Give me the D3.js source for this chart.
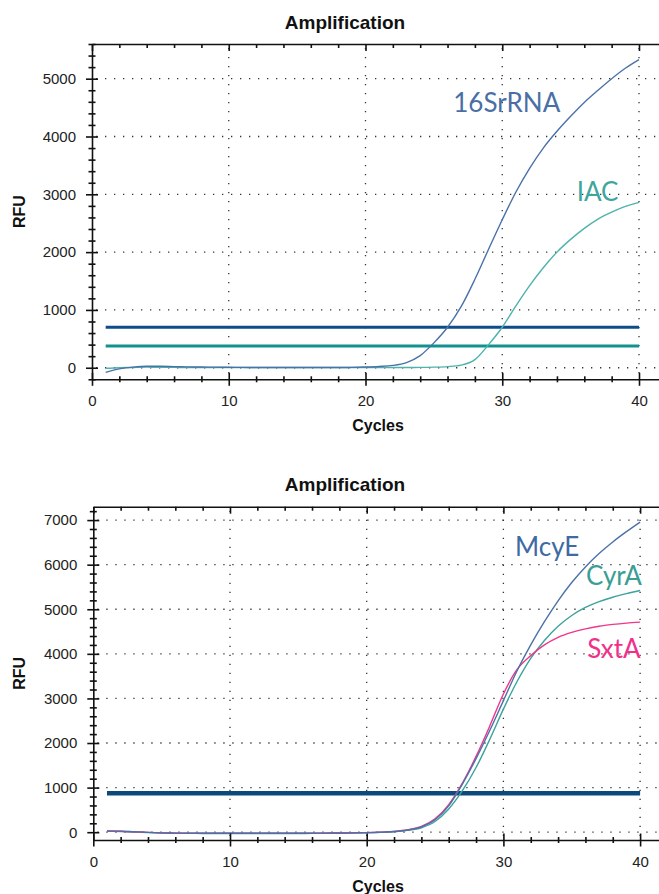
<!DOCTYPE html>
<html>
<head>
<meta charset="utf-8">
<script src="https://cdn.jsdelivr.net/npm/d3@7"></script>
<style>
  body { margin: 0; background: #fff; }
  svg { display: block; }
  .tick text { font-family: "Liberation Sans", Arial, sans-serif; font-size: 15px; fill: #222; }
  .title { font-family: "Liberation Sans", Arial, sans-serif; font-weight: bold; font-size: 19px; fill: #111; }
  .axis-title { font-family: "Liberation Sans", Arial, sans-serif; font-weight: bold; font-size: 16px; fill: #111; }
  .curve-label { font-family: Lato, "Open Sans", sans-serif; font-size: 26px; }
</style>
</head>
<body>
<svg id="chart" width="659" height="894"></svg>
<script>
/*Data*/
var cycles = [1,2,3,4,5,6,7,8,9,10,11,12,13,14,15,16,17,18,19,20,
              21,22,23,24,25,26,27,28,29,30,31,32,33,34,35,36,37,38,39,40];

// top panel
var rfu16SrRNA = [-80,-20,10,25,25,20,15,12,10,8,6,5,5,4,4,3,3,4,6,12,
                  22,40,90,210,430,700,1060,1530,2050,2560,3040,3450,3800,4090,4350,4590,4800,5000,5180,5330];
var rfuIAC = [-10,0,5,10,8,6,5,5,4,4,4,3,3,3,3,3,3,3,3,4,
              4,5,5,6,10,20,45,140,400,700,1070,1420,1730,2000,2220,2410,2570,2690,2790,2860];
var thresholdsTop = [700, 375];

// bottom panel
var rfuMcyE = [30,25,10,-5,-15,-20,-22,-24,-25,-25,-25,-25,-24,-24,-23,-22,-20,-18,-15,-10,
               0,15,50,120,280,590,1080,1650,2280,2950,3620,4200,4720,5190,5600,5950,6250,6510,6740,6955];
var rfuCyrA = [20,15,5,-10,-20,-25,-27,-28,-30,-30,-30,-30,-30,-29,-28,-27,-25,-22,-18,-12,
               -5,10,40,100,240,520,930,1450,2080,2760,3380,3900,4300,4620,4860,5040,5170,5270,5350,5420];
var rfuSxtA = [25,20,8,-5,-15,-20,-22,-24,-25,-25,-25,-25,-24,-24,-23,-22,-20,-18,-15,-10,
               0,18,55,130,300,620,1100,1700,2380,3100,3650,3960,4200,4370,4480,4560,4620,4660,4690,4712];
var thresholdsBottom = [875];

var xTicks = [0, 10, 20, 30, 40];
var yTicksTop = [0, 1000, 2000, 3000, 4000, 5000];
var yTicksBottom = [0, 1000, 2000, 3000, 4000, 5000, 6000, 7000];

var svg = d3.select("#chart");
var W = 659;

/*Draw one amplification panel*/
function drawPanel(p) {
  var g = svg.append("g");

  var x = d3.scaleLinear().domain([0, 42]).range([p.left, p.left + 42 * p.pxPerCycle]);
  var y = d3.scaleLinear().domain(p.yDomain).range([p.bottom, p.top]);

  var minorX = d3.range(0, 43, 2).filter(function(v) { return v % 10 !== 0; });
  var minorY = d3.range(Math.ceil(p.yDomain[0] / 200) * 200, p.yDomain[1] + 1, 200)
                 .filter(function(v) { return v % 1000 !== 0; });

  // dotted grid
  var grid = g.append("g").attr("stroke", "#333").attr("stroke-width", 1.3)
              .attr("stroke-dasharray", "1.3 7.7").attr("fill", "none");
  grid.selectAll("line.h").data(p.yTicks).enter().append("line")
      .attr("x1", p.left + 4).attr("x2", W)
      .attr("y1", function(d) { return y(d); }).attr("y2", function(d) { return y(d); });
  grid.selectAll("line.v").data(xTicks.slice(1)).enter().append("line")
      .attr("y1", p.top + 4).attr("y2", p.bottom)
      .attr("x1", function(d) { return x(d); }).attr("x2", function(d) { return x(d); });

  // threshold lines from cycle 1 to 40
  g.selectAll("line.thr").data(p.thresholds).enter().append("line")
      .attr("x1", x(cycles[0])).attr("x2", x(cycles[cycles.length - 1]))
      .attr("y1", function(d) { return y(d); }).attr("y2", function(d) { return y(d); })
      .attr("stroke", function(d, i) { return p.thresholdColors[i]; })
      .attr("stroke-width", p.thresholdWidth);

  // curves
  var line = d3.line()
      .x(function(d, i) { return x(cycles[i]); })
      .y(function(d) { return y(d); })
      .curve(d3.curveMonotoneX);
  p.series.forEach(function(s) {
    g.append("path").datum(s.values)
      .attr("fill", "none").attr("stroke", s.color).attr("stroke-width", 1.4)
      .attr("d", line);
  });

  // curve names
  p.series.forEach(function(s) {
    g.append("text").attr("class", "curve-label")
      .attr("x", x(s.labelAt[0])).attr("y", y(s.labelAt[1]))
      .attr("fill", s.textColor).text(s.name);
  });

  // top border with hanging ticks
  g.append("g").attr("transform", "translate(0," + p.top + ")")
    .call(d3.axisBottom(x).tickValues(xTicks).tickSize(7).tickSizeOuter(0).tickFormat(""));
  g.append("g").attr("transform", "translate(0," + p.top + ")")
    .call(d3.axisBottom(x).tickValues(minorX).tickSize(4).tickSizeOuter(0).tickFormat(""))
    .select(".domain").remove();

  // x axis, ticks crossing the line
  var xa = g.append("g").attr("transform", "translate(0," + p.bottom + ")");
  xa.append("g").call(d3.axisBottom(x).tickValues(xTicks).tickSize(6.5).tickSizeOuter(0)
    .tickPadding(10).tickFormat(d3.format("d")));
  xa.append("g").call(d3.axisTop(x).tickValues(xTicks).tickSize(6.5).tickSizeOuter(0).tickFormat(""))
    .select(".domain").remove();
  xa.append("g").call(d3.axisBottom(x).tickValues(minorX).tickSize(3).tickSizeOuter(0).tickFormat(""))
    .select(".domain").remove();
  xa.append("g").call(d3.axisTop(x).tickValues(minorX).tickSize(3).tickSizeOuter(0).tickFormat(""))
    .select(".domain").remove();

  // y axis, ticks crossing the line
  var ya = g.append("g").attr("transform", "translate(" + p.left + ",0)");
  ya.append("g").call(d3.axisLeft(y).tickValues(p.yTicks).tickSize(6).tickSizeOuter(0)
    .tickPadding(10).tickFormat(d3.format("d")));
  ya.append("g").call(d3.axisRight(y).tickValues(p.yTicks).tickSize(6).tickSizeOuter(0).tickFormat(""))
    .select(".domain").remove();
  ya.append("g").call(d3.axisLeft(y).tickValues(minorY).tickSize(3.5).tickSizeOuter(0).tickFormat(""))
    .select(".domain").remove();
  ya.append("g").call(d3.axisRight(y).tickValues(minorY).tickSize(3.5).tickSizeOuter(0).tickFormat(""))
    .select(".domain").remove();

  g.selectAll(".domain, .tick line").attr("stroke", "#111").attr("stroke-width", 1.6);

  // titles
  g.append("text").attr("class", "title").attr("x", 345).attr("y", p.titleY)
    .attr("text-anchor", "middle").text("Amplification");
  g.append("text").attr("class", "axis-title").attr("x", 378).attr("y", p.bottom + 52)
    .attr("text-anchor", "middle").text("Cycles");
  g.append("text").attr("class", "axis-title")
    .attr("transform", "translate(25," + ((p.top + p.bottom) / 2) + ") rotate(-90)")
    .attr("text-anchor", "middle").text("RFU");
}

drawPanel({
  top: 44, bottom: 379.3, left: 92, pxPerCycle: 13.675,
  yDomain: [-200, 5600], yTicks: yTicksTop, titleY: 28.5,
  thresholds: thresholdsTop, thresholdColors: ["#0f4c8a", "#13918d"], thresholdWidth: 3,
  series: [
    {name: "IAC", values: rfuIAC, color: "#4db3ac", textColor: "#3fa69e", labelAt: [35.44, 2877]},
    {name: "16SrRNA", values: rfu16SrRNA, color: "#4a72a8", textColor: "#4a6fa5", labelAt: [26.42, 4420]}
  ]
});

drawPanel({
  top: 506.7, bottom: 840, left: 93.3, pxPerCycle: 13.67,
  yDomain: [-175, 7300], yTicks: yTicksBottom, titleY: 491,
  thresholds: thresholdsBottom, thresholdColors: ["#0b4a7a"], thresholdWidth: 4.5,
  series: [
    {name: "CyrA", values: rfuCyrA, color: "#3aa39b", textColor: "#3a9e94", labelAt: [36.04, 5549]},
    {name: "SxtA", values: rfuSxtA, color: "#f0368a", textColor: "#f0308a", labelAt: [36.14, 3904]},
    {name: "McyE", values: rfuMcyE, color: "#4a72a8", textColor: "#3f6aa3", labelAt: [30.85, 6184]}
  ]
});
</script>
</body>
</html>
